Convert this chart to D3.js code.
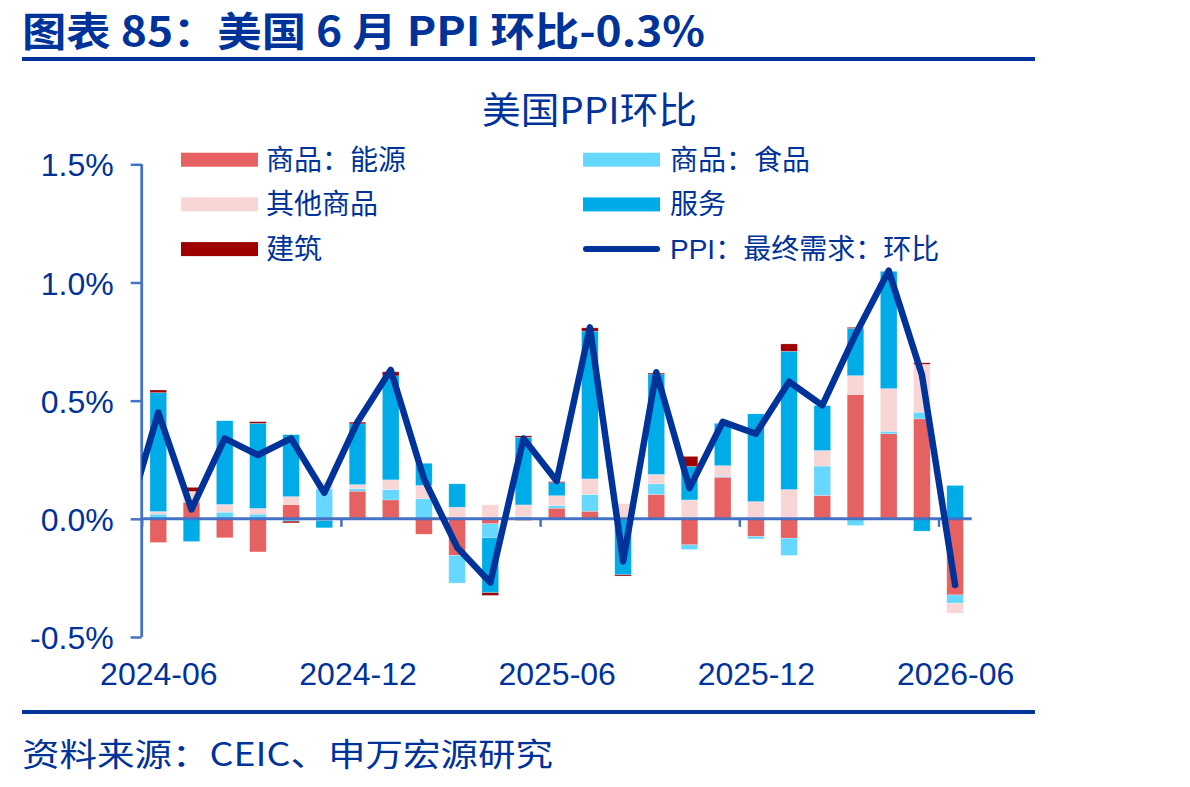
<!DOCTYPE html>
<html>
<head>
<meta charset="utf-8">
<script src="https://cdn.jsdelivr.net/npm/d3@7"></script>
<style>
  body { margin: 0; background: #fff; }
  svg { display: block; }
  text { font-family: "Liberation Sans", Arial, "Noto Sans CJK SC", sans-serif; fill: #003399; }
</style>
</head>
<body>
<div id="chart"></div>
<script>
// month labels (bars), values in %
const months = ['2024-06','2024-07','2024-08','2024-09','2024-10','2024-11','2024-12',
  '2025-01','2025-02','2025-03','2025-04','2025-05','2025-06','2025-07','2025-08',
  '2025-09','2025-10','2025-11','2025-12','2026-01','2026-02','2026-03','2026-04',
  '2026-05','2026-06'];
const energy       = [-0.10, 0.07,-0.08,-0.14, 0.06,-0.007, 0.117, 0.08,-0.065,-0.155,-0.021,-0.007, 0.045, 0.032, 0.00, 0.103,-0.11, 0.176,-0.075,-0.082, 0.099, 0.526, 0.36, 0.423,-0.322];
const food         = [ 0.02, 0.00, 0.028, 0.02,-0.01, 0.127, 0.01, 0.044, 0.085,-0.117,-0.059, 0.01, 0.011, 0.071, 0.00, 0.045,-0.02, 0.004,-0.01,-0.073, 0.124,-0.028, 0.01, 0.028,-0.035];
const otherGoods   = [ 0.011, 0.046, 0.033, 0.024, 0.034, 0.028, 0.018, 0.041, 0.056, 0.049, 0.059, 0.049, 0.042, 0.066, 0.064, 0.04, 0.08, 0.045, 0.073, 0.124, 0.066, 0.08, 0.181, 0.203,-0.042];
const services     = [ 0.503,-0.096, 0.354, 0.36, 0.262,-0.031, 0.257, 0.44, 0.094, 0.099,-0.233, 0.286, 0.055, 0.625,-0.237, 0.425, 0.142, 0.179, 0.371, 0.585, 0.19, 0.20, 0.496,-0.052, 0.141];
const construction = [ 0.011, 0.017, 0.00, 0.007,-0.007, 0.00, 0.007, 0.017, 0.00, 0.00,-0.011, 0.006, 0.004, 0.014,-0.005, 0.004, 0.042, 0.00, 0.00, 0.031, 0.00, 0.004, 0.00, 0.006, 0.00];
// PPI final demand m/m; first value is 2024-05 (only its segment into the plot shows)
const ppiMonths = ['2024-05', ...months];
const ppi = [-0.03, 0.45, 0.04, 0.34, 0.27, 0.34, 0.11, 0.41, 0.63, 0.17,-0.12,-0.27, 0.34, 0.16, 0.81,-0.18, 0.62, 0.13, 0.41, 0.36, 0.58, 0.48, 0.78, 1.05, 0.61,-0.28];

const seriesNames = ['商品：能源','商品：食品','其他商品','服务','建筑'];
const seriesKeys = ['energy','food','other','services','construction'];
const colors = ['#E66161','#66D8FF','#F8D6D6','#00ACE8','#9E0000'];
const lineColor = '#003399';
const axisColor = '#4472C4';

const width = 1190, height = 787;
const svg = d3.select('#chart').append('svg').attr('width', width).attr('height', height);

const table = months.map((m, i) => ({
  month: m, i,
  energy: energy[i], food: food[i], other: otherGoods[i],
  services: services[i], construction: construction[i]
}));

const plot = {left: 141.7, right: 971.7, top: 164.3, bottom: 637};

const x = d3.scaleLinear().domain([-0.5, months.length - 0.5]).range([plot.left, plot.right]);
const y = d3.scaleLinear().domain([-0.5, 1.5]).range([plot.bottom, plot.top]);
const barW = (x(1) - x(0)) * 0.5;

// header
svg.append('text')
  .attr('x', 22).attr('y', 46)
  .attr('textLength', 683).attr('lengthAdjust', 'spacingAndGlyphs')
  .style('font-size', '40px').style('font-weight', 'bold')
  .style('font-family', '"Noto Sans CJK SC", sans-serif')
  .text('图表 85：美国 6 月 PPI 环比-0.3%');
svg.append('rect').attr('x', 22).attr('y', 57).attr('width', 1013).attr('height', 4).attr('fill', lineColor);

svg.append('text')
  .attr('x', 482).attr('y', 124)
  .attr('textLength', 215).attr('lengthAdjust', 'spacingAndGlyphs')
  .style('font-size', '37px')
  .style('font-family', '"Noto Sans CJK SC", sans-serif')
  .text('美国PPI环比');

// bars
const stacked = d3.stack().keys(seriesKeys).offset(d3.stackOffsetDiverging)(table);
svg.append('g').selectAll('g')
  .data(stacked)
  .join('g')
    .attr('fill', (d, k) => colors[k])
  .selectAll('rect')
  .data(d => d)
  .join('rect')
    .attr('x', d => x(d.data.i) - barW / 2)
    .attr('width', barW)
    .attr('y', d => y(Math.max(d[0], d[1])))
    .attr('height', d => Math.abs(y(d[0]) - y(d[1])))
    .attr('stroke', 'rgba(255,255,255,0.35)')
    .attr('stroke-width', 0.6);

// axes
const yAxis = svg.append('g')
  .attr('transform', `translate(${plot.left},0)`)
  .call(d3.axisLeft(y).tickValues([-0.5, 0, 0.5, 1, 1.5]).tickSize(11).tickPadding(17)
    .tickFormat(d => d.toFixed(1) + '%'));
yAxis.select('.domain').attr('stroke', axisColor).attr('stroke-width', 2.8).attr('d', `M0,${plot.top}V${plot.bottom}`);
yAxis.selectAll('.tick line').attr('stroke', axisColor).attr('stroke-width', 2.5);
yAxis.selectAll('.tick text').style('font-size', '32px').attr('fill', lineColor).attr('dy', '0.36em');

const xAxis = svg.append('g')
  .attr('transform', `translate(0,${y(0)})`)
  .call(d3.axisBottom(x).tickValues([-0.5, 5.5, 11.5, 17.5, 23.5]).tickSize(8).tickFormat(''));
xAxis.select('.domain').attr('stroke', axisColor).attr('stroke-width', 3).attr('d', `M${plot.left},0H${plot.right}`);
xAxis.selectAll('.tick line').attr('stroke', axisColor).attr('stroke-width', 2.5);

const xLabels = svg.append('g')
  .attr('transform', `translate(0,${plot.bottom})`)
  .call(d3.axisBottom(x).tickValues([0, 6, 12, 18, 24]).tickSize(0).tickPadding(25)
    .tickFormat(i => months[i]));
xLabels.select('.domain').remove();
xLabels.selectAll('.tick text').style('font-size', '32px').attr('fill', lineColor);

// PPI line
svg.append('clipPath').attr('id', 'plotclip')
  .append('rect').attr('x', plot.left).attr('y', 0).attr('width', plot.right - plot.left + 20).attr('height', height);

svg.append('path')
  .datum(ppi)
  .attr('clip-path', 'url(#plotclip)')
  .attr('fill', 'none')
  .attr('stroke', lineColor)
  .attr('stroke-width', 6.5)
  .attr('stroke-linejoin', 'round')
  .attr('stroke-linecap', 'round')
  .attr('d', d3.line().x((d, i) => x(i - 1)).y(d => y(d)));

// legend
const legendItems = [
  {name: seriesNames[0], color: colors[0], col: 0, row: 0},
  {name: seriesNames[2], color: colors[2], col: 0, row: 1},
  {name: seriesNames[4], color: colors[4], col: 0, row: 2},
  {name: seriesNames[1], color: colors[1], col: 1, row: 0},
  {name: seriesNames[3], color: colors[3], col: 1, row: 1},
  {name: 'PPI：最终需求：环比', color: lineColor, col: 1, row: 2, line: true}
];
const leg = svg.append('g').selectAll('g')
  .data(legendItems)
  .join('g')
    .attr('transform', d => `translate(${d.col ? 583 : 181},${159.7 + d.row * 44.7})`);
leg.filter(d => !d.line).append('rect')
  .attr('x', 0).attr('y', -7).attr('width', 77).attr('height', 14).attr('fill', d => d.color);
leg.filter(d => d.line).append('line')
  .attr('x1', 3).attr('x2', 74).attr('stroke', d => d.color).attr('stroke-width', 6).attr('stroke-linecap', 'round');
leg.append('text')
  .attr('x', d => d.col ? 87 : 85)
  .attr('dy', '0.36em')
  .style('font-size', '28px')
  .text(d => d.name);

// footer
svg.append('rect').attr('x', 22).attr('y', 710).attr('width', 1013).attr('height', 4).attr('fill', lineColor);
svg.append('text')
  .attr('x', 22).attr('y', 766)
  .attr('textLength', 531).attr('lengthAdjust', 'spacingAndGlyphs')
  .style('font-size', '32px')
  .style('font-family', '"Noto Sans CJK SC", sans-serif')
  .text('资料来源：CEIC、申万宏源研究');
</script>
</body>
</html>
